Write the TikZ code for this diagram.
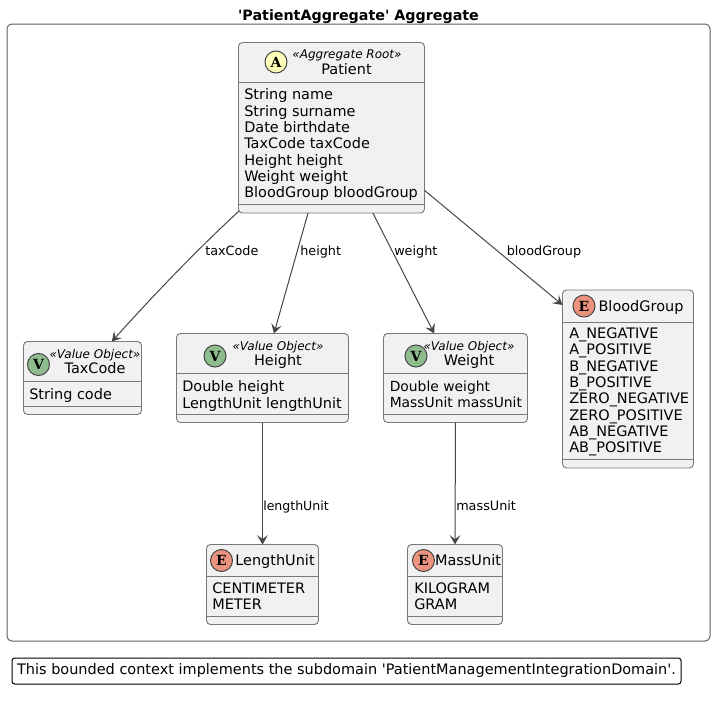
\documentclass[tikz,border=0pt]{standalone}
\usepackage{fontspec}
\setmainfont{DejaVu Sans}
\newfontfamily\plainfont{DejaVu Sans}
\newfontfamily\spotfont{DejaVu Serif}
\usetikzlibrary{arrows.meta}
\definecolor{boxfill}{HTML}{F1F1F1}
\definecolor{boxline}{HTML}{181818}
\definecolor{softline}{HTML}{787878}
\definecolor{connline}{HTML}{454545}
\definecolor{spotA}{HTML}{FFFFBB}
\definecolor{spotV}{HTML}{8FBC8F}
\definecolor{spotE}{HTML}{EB937F}
\tikzset{
  umlbox/.style={draw=softline,fill=boxfill,line width=0.7pt,rounded corners=3pt,inner sep=0pt,outer sep=0pt},
  sepline/.style={draw=softline,line width=0.7pt},
  spot/.style={circle,draw=boxline!80,line width=0.75pt,minimum size=16.5pt,inner sep=0pt,font=\spotfont\bfseries\fontsize{10.5}{10.5}\selectfont},
  stereo/.style={inner sep=0pt,anchor=base,font=\itshape\fontsize{9}{10}\selectfont},
  cname/.style={inner sep=0pt,anchor=base,font=\fontsize{10.85}{12}\selectfont},
  fields/.style={inner sep=0pt,anchor=north west,align=left,font=\fontsize{10.85}{12.25}\selectfont},
  conn/.style={draw=connline,line width=0.75pt,-{Stealth[length=7pt,width=8pt,inset=3pt]}},
  clabel/.style={inner sep=0pt,anchor=base west,font=\fontsize{9.6}{11}\selectfont},
  frame/.style={draw=softline!80!black,line width=0.75pt,rounded corners=3.5pt,inner sep=0pt,outer sep=0pt},
}
% name, x1, y1, x2, y2, sep1, sep2
\newcommand{\umlcls}[7]{%
  \node[umlbox,minimum width=#4pt*0.75-#2pt*0.75,minimum height=#5pt*0.75-#3pt*0.75] (#1) at ({(#2+#4)/2},{(#3+#5)/2}) {};
  \draw[sepline] (#2,#6) -- (#4,#6) (#2,#7) -- (#4,#7);
}
\begin{document}
\begin{tikzpicture}[x=0.75pt,y=-0.75pt]
\useasboundingbox (0,0) rectangle (715,703);
\node[frame,minimum width=527.25pt,minimum height=462.75pt] (aggframe) at (358.5,332.5) {};
\node[inner sep=0pt,font=\plainfont\bfseries\fontsize{10.7}{12}\selectfont] (aggtitle) at (358.5,17) {'PatientAggregate' Aggregate};

\umlcls{patient}{238.5}{42.5}{424.5}{213}{82.5}{204}
\node[spot,fill=spotA] (patientspot) at (276,62) {A};
\node[stereo] (patientst) at (347,58.3) {«Aggregate Root»};
\node[cname] (patientname) at (346.5,74.3) {Patient};
\node[fields] (patientf) at (244,88.5) {String name\\String surname\\Date birthdate\\TaxCode taxCode\\Height height\\Weight weight\\BloodGroup bloodGroup};

\umlcls{taxcode}{23.5}{341.5}{141.5}{414.5}{381.5}{406.5}
\node[spot,fill=spotV] (taxspot) at (38.5,364.5) {V};
\node[stereo] (taxst) at (95,358.3) {«Value Object»};
\node[cname] (taxname) at (95,373) {TaxCode};
\node[fields] (taxf) at (29,388) {String code};

\umlcls{height}{176.5}{333.5}{348.5}{422.5}{373}{414.5}
\node[spot,fill=spotV] (heightspot) at (215,356) {V};
\node[stereo] (heightst) at (278,350) {«Value Object»};
\node[cname] (heightname) at (278,365) {Height};
\node[fields] (heightf) at (182,380.5) {Double height\\LengthUnit lengthUnit};

\umlcls{weight}{383.5}{333.5}{527.5}{422.5}{373}{414.5}
\node[spot,fill=spotV] (weightspot) at (416,356) {V};
\node[stereo] (weightst) at (469,350) {«Value Object»};
\node[cname] (weightname) at (469,365) {Weight};
\node[fields,font=\fontsize{10.4}{12.25}\selectfont] (weightf) at (389.5,380.5) {Double weight\\MassUnit massUnit};

\umlcls{blood}{562.5}{290}{693.5}{468}{322.5}{459}
\node[spot,fill=spotE] (bloodspot) at (584,306) {E};
\node[cname] (bloodname) at (641,311) {BloodGroup};
\node[fields] (bloodf) at (569,327.5) {A\_NEGATIVE\\A\_POSITIVE\\B\_NEGATIVE\\B\_POSITIVE\\ZERO\_NEGATIVE\\ZERO\_POSITIVE\\AB\_NEGATIVE\\AB\_POSITIVE};

\umlcls{lengthu}{206.5}{544.5}{318.5}{624.5}{576.5}{616.5}
\node[spot,fill=spotE] (lengthspot) at (221.5,560.5) {E};
\node[cname] (lengthname) at (275,565) {LengthUnit};
\node[fields] (lengthf) at (212,582.5) {CENTIMETER\\METER};

\umlcls{massu}{407.5}{544.5}{502.5}{624.5}{576.5}{616.5}
\node[spot,fill=spotE] (massspot) at (423.5,560.5) {E};
\node[cname] (massname) at (468,565) {MassUnit};
\node[fields] (massf) at (414,582.5) {KILOGRAM\\GRAM};

\draw[conn] ([xshift=0.4pt,yshift=1.5pt]patient.south west) .. controls +(-40,37) and +(45,-50) .. ([xshift=22pt]taxcode.north);
\draw[conn] ([xshift=-17.6pt]patient.south) -- ([xshift=8.6pt]height.north);
\draw[conn] ([xshift=31pt]patient.south) -- ([xshift=-16pt]weight.north);
\draw[conn] ([yshift=17pt]patient.south east) -- ([yshift=55.5pt]blood.west);
\draw[conn] (height.south) -- (lengthu.north);
\draw[conn] (weight.south) -- (massu.north);

\node[clabel] (l1) at (205,255) {taxCode};
\node[clabel] (l2) at (300,255) {height};
\node[clabel] (l3) at (394,255) {weight};
\node[clabel] (l4) at (506.5,255) {bloodGroup};
\node[clabel,font=\fontsize{9.4}{11}\selectfont] (l5) at (263,510) {lengthUnit};
\node[clabel] (l6) at (456,510) {massUnit};

\node[draw=black,line width=0.75pt,rounded corners=2pt,inner sep=0pt,minimum width=501.75pt,minimum height=19.5pt,font=\plainfont\fontsize{10.85}{12}\selectfont,text=black] (note) at (346.5,671) {This bounded context implements the subdomain 'PatientManagementIntegrationDomain'.};
\end{tikzpicture}
\end{document}
